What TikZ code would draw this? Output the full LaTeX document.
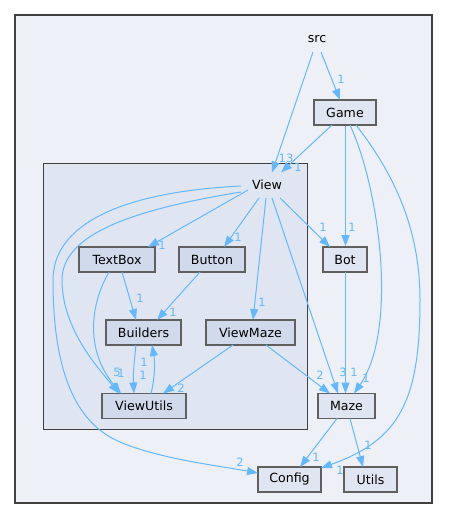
\documentclass[tikz,border=0pt]{standalone}
\usepackage{fontspec}
\setmainfont{DejaVu Sans}
\usetikzlibrary{arrows.meta}
\definecolor{edgec}{HTML}{63B8FF}
\definecolor{outerfill}{HTML}{EDF0F7}
\definecolor{innerfill}{HTML}{DFE5F1}
\definecolor{nodein}{HTML}{D0DAEB}
\definecolor{nodeout}{HTML}{DFE5F1}
\definecolor{framec}{HTML}{404040}
\definecolor{nodeborder}{HTML}{5F5F5F}
\begin{document}
\begin{tikzpicture}[x=1pt,y=-1pt,
  lab/.style={font=\fontsize{12.6}{14}\selectfont, text=black, inner sep=0pt, minimum height=25},
  dirbox/.style={lab, draw=nodeborder, line width=1.5pt},
  dirin/.style={dirbox, fill=nodein},
  dirout/.style={dirbox, fill=nodeout},
  dep/.style={draw=edgec, line width=1pt, -{Triangle[length=11pt,width=8pt]}},
  num/.style={font=\fontsize{11.5}{12}\selectfont, text=edgec, inner sep=0pt}]
\useasboundingbox (0,0) rectangle (448,519);
\fill[white] (0,0) rectangle (448,519);
% clusters
\draw[framec, line width=2.6pt, fill=outerfill] (15,15) rectangle (432,503);
\draw[framec, line width=1pt, fill=innerfill] (43,163) rectangle (307,429);
% nodes
\node[lab] (src) at (317,39) {src};
\node[lab, minimum width=52] (View) at (267,185) {View};
\node[dirout, minimum width=62] (Game) at (345,112.5) {Game};
\node[dirin, minimum width=76] (TextBox) at (117,259.5) {TextBox};
\node[dirin, minimum width=66] (Button) at (212,259.5) {Button};
\node[dirout, minimum width=44] (Bot) at (345,259.5) {Bot};
\node[dirin, minimum width=75] (Builders) at (143.5,332.5) {Builders};
\node[dirin, minimum width=89] (ViewMaze) at (250.5,332.5) {ViewMaze};
\node[dirin, minimum width=84] (ViewUtils) at (144,406) {ViewUtils};
\node[dirout, minimum width=57] (Maze) at (346.5,406) {Maze};
\node[dirout, minimum width=63] (Config) at (289.5,479.5) {Config};
\node[dirout, minimum width=53] (Utils) at (370.5,479.5) {Utils};
% edges
\draw[dep] ([shift={(-4,13)}]src.center) -- ([shift={(5,-12.5)}]View.center);
\draw[dep] ([shift={(4,13)}]src.center) -- ([shift={(-5,-12.5)}]Game.center);
\draw[dep] ([shift={(-13,12.5)}]Game.center) -- ([shift={(14,-12.5)}]View.center);
\draw[dep] ([shift={(0.5,13.3)}]Game.center) -- ([shift={(0.5,-13.3)}]Bot.center);
\draw[dep] ([shift={(5,12.5)}]Game.center) .. controls (380,190) and (398,330) .. ([shift={(7.5,-12.5)}]Maze.center);
\draw[dep] ([shift={(11,12.5)}]Game.center) .. controls (395,175) and (420,230) .. (420,300) .. controls (420,400) and (400,440) .. ([shift={(31.5,-11.5)}]Config.center);
\draw[dep] ([shift={(-19,5)}]View.center) -- ([shift={(31,-12.5)}]TextBox.center);
\draw[dep] ([shift={(-8,13)}]View.center) -- ([shift={(12,-12.5)}]Button.center);
\draw[dep] ([shift={(-1,13)}]View.center) -- ([shift={(2.5,-12.5)}]ViewMaze.center);
\draw[dep] ([shift={(13,13)}]View.center) -- ([shift={(-15,-12.5)}]Bot.center);
\draw[dep] ([shift={(5,13)}]View.center) -- ([shift={(-8.5,-12.5)}]Maze.center);
\draw[dep] ([shift={(-26,7)}]View.center) .. controls (130,210) and (62,235) .. (62,280) .. controls (62,330) and (100,370) .. ([shift={(-25,-12.5)}]ViewUtils.center);
\draw[dep] ([shift={(-26,1)}]View.center) .. controls (120,192) and (53,225) .. (53,280) .. controls (53,380) and (80,425) .. (120,442) .. controls (160,459) and (220,466) .. ([shift={(-31.5,-6.5)}]Config.center);
\draw[dep] ([shift={(5,12.5)}]TextBox.center) -- ([shift={(-7.5,-12.5)}]Builders.center);
\draw[dep] ([shift={(-8,12.5)}]TextBox.center) .. controls (90,305) and (85,350) .. ([shift={(-23,-12.5)}]ViewUtils.center);
\draw[dep] ([shift={(-12,12.5)}]Button.center) -- ([shift={(13.5,-12.5)}]Builders.center);
\draw[dep] ([shift={(-7.5,12.5)}]Builders.center) .. controls (134,362) and (133,378) .. ([shift={(-10,-12.5)}]ViewUtils.center);
\draw[dep] ([shift={(7,-12.5)}]ViewUtils.center) .. controls (155,378) and (155,362) .. ([shift={(8.5,12.5)}]Builders.center);
\draw[dep] ([shift={(-17.5,12.5)}]ViewMaze.center) -- ([shift={(19,-12.5)}]ViewUtils.center);
\draw[dep] ([shift={(15.5,12.5)}]ViewMaze.center) -- ([shift={(-16.5,-12.5)}]Maze.center);
\draw[dep] ([shift={(0.5,12.5)}]Bot.center) -- ([shift={(-1,-12.5)}]Maze.center);
\draw[dep] ([shift={(-9.5,12.5)}]Maze.center) -- ([shift={(10.5,-12.5)}]Config.center);
\draw[dep] ([shift={(3.5,12.5)}]Maze.center) -- ([shift={(-7.5,-12.5)}]Utils.center);
% labels
\node[num] (l1) at (286,158) {13};
\node[num] (l2) at (341,79) {1};
\node[num] (l3) at (298,167) {1};
\node[num] (l4) at (162,245) {1};
\node[num] (l5) at (238,237) {1};
\node[num] (l6) at (323,227) {1};
\node[num] (l7) at (352,227) {1};
\node[num] (l8) at (262,302) {1};
\node[num] (l9) at (140,298) {1};
\node[num] (l10) at (173,312) {1};
\node[num] (l11) at (320,375) {2};
\node[num] (l12) at (343,372) {3};
\node[num] (l13) at (354,372) {1};
\node[num] (l14) at (366,378) {1};
\node[num] (l15) at (181,388) {2};
\node[num] (l16) at (117,372) {5};
\node[num] (l17) at (121,373) {1};
\node[num] (l18) at (143,375) {1};
\node[num] (l19) at (144,362) {1};
\node[num] (l20) at (316,457) {1};
\node[num] (l21) at (340,470) {1};
\node[num] (l22) at (368,445) {1};
\node[num] (l23) at (240,462) {2};
\end{tikzpicture}
\end{document}
